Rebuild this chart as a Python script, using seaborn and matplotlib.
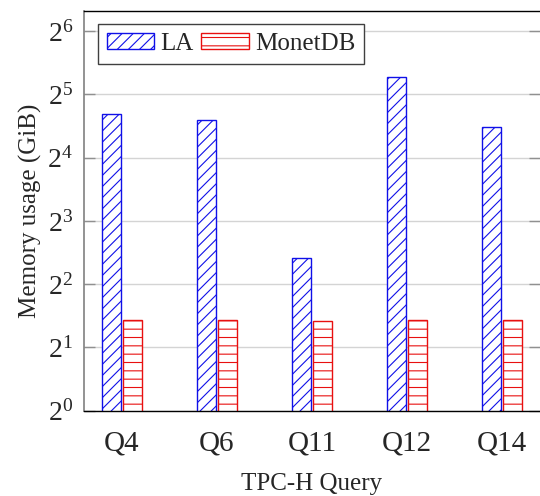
import matplotlib
matplotlib.use("Agg")
import matplotlib.pyplot as plt
import seaborn as sns
import pandas as pd

# Memory usage per TPC-H query (GiB)
queries = ["Q4", "Q6", "Q11", "Q12", "Q14"]
systems = ["LA", "MonetDB"]
la_mem = [25.9, 24.3, 5.36, 38.7, 22.5]
monetdb_mem = [2.70, 2.71, 2.68, 2.69, 2.71]
y_exponents = [0, 1, 2, 3, 4, 5, 6]

colors = {"LA": "#1010e8", "MonetDB": "#e81010"}
hatches = {"LA": "///", "MonetDB": "--"}

df = pd.DataFrame({
    "query": queries * 2,
    "system": ["LA"] * len(queries) + ["MonetDB"] * len(queries),
    "mem": la_mem + monetdb_mem,
})

sns.set_style("white")
plt.rcParams["font.family"] = ["Liberation Serif", "DejaVu Serif"]
plt.rcParams["mathtext.fontset"] = "custom"
plt.rcParams["mathtext.rm"] = "Liberation Serif"
plt.rcParams["mathtext.it"] = "Liberation Serif:italic"
plt.rcParams["hatch.linewidth"] = 0.8

fig = plt.figure(figsize=(5.4, 4.96), dpi=100)
ax = fig.add_axes([84 / 540, 1 - 410.7 / 496, 1 - 84 / 540, (410.7 - 11) / 496])

sns.barplot(data=df, x="query", y="mem", hue="system", order=queries,
            hue_order=systems, palette=colors, fill=False, width=0.44,
            gap=0.1, linewidth=1.0, legend=False, err_kws={"linewidth": 0},
            ax=ax)

for cont, name in zip(ax.containers, systems):
    for p in cont.patches:
        p.set_hatch(hatches[name])
        p.set_edgecolor(colors[name])
        p.set_facecolor("white")
        p.set_linewidth(1.0)

ax.set_yscale("log", base=2)
ax.set_ylim(1, 2 ** 6.32)
ax.set_xlim(-0.4, 4.4)
ax.set_yticks([2 ** k for k in y_exponents])
ax.set_yticklabels([f"$2^{{{k}}}$" for k in y_exponents])
ax.minorticks_off()

ax.yaxis.grid(True, color="#d4d4d4", linewidth=1.0)
ax.set_axisbelow(True)
ax.tick_params(axis="y", which="major", direction="in", length=8,
               width=1.0, color="#909090", left=True, right=True,
               labelsize=20, pad=8)
ax.tick_params(axis="x", length=0, labelsize=21, pad=14)

for side in ["top", "bottom"]:
    ax.spines[side].set_color("black")
    ax.spines[side].set_linewidth(1.0)
ax.spines["left"].set_color("#808080")
ax.spines["left"].set_linewidth(1.2)
ax.spines["right"].set_visible(False)

ax.set_xlabel("TPC-H Query", fontsize=18, labelpad=12)
ax.set_ylabel("Memory usage (GiB)", fontsize=18, labelpad=4)

leg = ax.legend(ax.containers, systems, loc="upper left",
                bbox_to_anchor=(0.031, 0.967), borderaxespad=0, ncol=2,
                fontsize=18, handlelength=1.9, handleheight=0.6,
                handletextpad=0.25, columnspacing=0.3, borderpad=0.35,
                fancybox=False, framealpha=1)
leg.get_frame().set_edgecolor("#404040")
leg.get_frame().set_linewidth(1.0)

fig.savefig("out.png", dpi=100)
